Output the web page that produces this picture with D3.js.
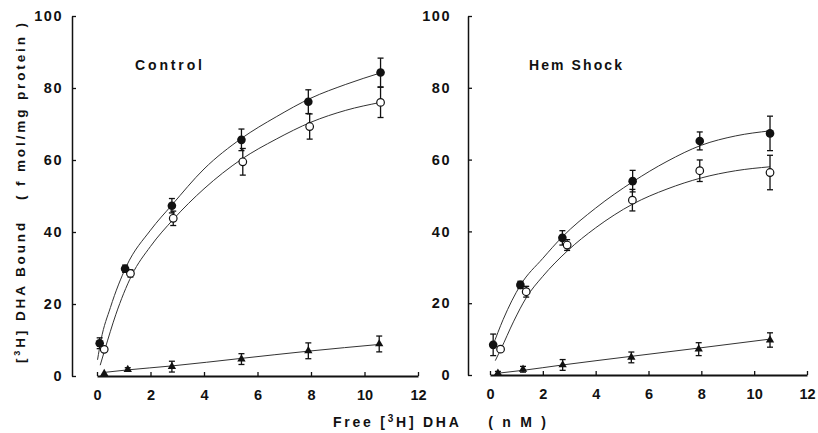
<!DOCTYPE html>
<html>
<head>
<meta charset="utf-8">
<script src="https://cdn.jsdelivr.net/npm/d3@7"></script>
<style>
  html, body { margin: 0; padding: 0; background: #fff; }
  svg { display: block; }
  text { font-family: "Liberation Sans", Arial, Helvetica, sans-serif; font-weight: bold; fill: #111; }
</style>
</head>
<body>
<svg id="chart" width="818" height="433"></svg>
<script>
// ---------- data ----------
const xTicks = [0, 2, 4, 6, 8, 10, 12];
const yTicks = [0, 20, 40, 60, 80, 100];
const panelTitles = ["Control", "Hem Shock"];

// Control panel: total binding (filled circles)
const ctrlTotalX   = [0.1, 1.05, 2.8, 5.4, 7.9, 10.6];
const ctrlTotalY   = [9.1, 29.8, 47.3, 65.6, 76.2, 84.3];
const ctrlTotalErr = [1.5, 1.0, 2.0, 3.0, 3.3, 4.0];
// Control panel: specific binding (open circles)
const ctrlSpecX    = [0.27, 1.25, 2.85, 5.45, 7.95, 10.6];
const ctrlSpecY    = [7.4, 28.5, 43.8, 59.5, 69.3, 76.0];
const ctrlSpecErr  = [0, 1.0, 2.0, 3.7, 3.5, 4.2];
// Control panel: nonspecific binding (triangles)
const ctrlNonX     = [0.27, 1.15, 2.8, 5.4, 7.9, 10.55];
const ctrlNonY     = [0.7, 1.8, 2.6, 4.7, 7.0, 8.9];
const ctrlNonErr   = [0, 0.5, 1.5, 1.5, 2.2, 2.2];
// Control panel: fitted curves
const ctrlTotalCurveX = [0.02, 0.15, 0.5, 1.1, 2.0, 2.8, 4.0, 5.4, 6.7, 8.0, 9.3, 10.6];
const ctrlTotalCurveY = [4.5, 10.0, 19.0, 30.5, 40.5, 47.5, 57.5, 66.0, 72.0, 77.2, 81.0, 84.2];
const ctrlSpecCurveX  = [0.12, 0.3, 0.7, 1.3, 2.0, 2.85, 4.0, 5.4, 6.7, 8.0, 9.3, 10.6];
const ctrlSpecCurveY  = [3.0, 7.5, 17.0, 28.0, 36.0, 43.5, 52.0, 60.2, 65.8, 70.5, 73.8, 76.0];
const ctrlNonCurveX   = [0.27, 1.15, 2.8, 5.4, 7.9, 10.6];
const ctrlNonCurveY   = [1.0, 1.7, 2.8, 4.9, 6.9, 8.8];

// Hem Shock panel
const hemTotalX   = [0.12, 1.15, 2.74, 5.4, 7.94, 10.6];
const hemTotalY   = [8.4, 25.1, 38.2, 54.0, 65.2, 67.3];
const hemTotalErr = [3.0, 1.0, 2.0, 3.0, 2.5, 4.8];
const hemSpecX    = [0.4, 1.37, 2.92, 5.39, 7.94, 10.6];
const hemSpecY    = [7.2, 23.2, 36.2, 48.7, 56.9, 56.4];
const hemSpecErr  = [0, 1.5, 1.5, 3.0, 3.0, 4.8];
const hemNonX     = [0.3, 1.25, 2.75, 5.35, 7.9, 10.6];
const hemNonY     = [0.5, 1.6, 2.8, 4.9, 7.2, 9.75];
const hemNonErr   = [0.5, 0.8, 1.5, 1.5, 1.8, 2.0];
const hemTotalCurveX = [0.1, 0.5, 1.15, 2.0, 2.74, 4.0, 5.4, 6.7, 8.0, 9.3, 10.6];
const hemTotalCurveY = [8.0, 15.5, 25.0, 32.5, 38.5, 46.5, 53.8, 59.5, 64.0, 66.6, 68.0];
const hemSpecCurveX  = [0.2, 0.4, 0.9, 1.37, 2.0, 2.92, 4.0, 5.4, 6.7, 8.0, 9.3, 10.6];
const hemSpecCurveY  = [4.0, 7.0, 15.0, 21.5, 27.5, 34.5, 41.0, 47.6, 51.8, 54.9, 56.9, 58.0];
const hemNonCurveX   = [0.3, 1.25, 2.75, 5.35, 7.9, 10.6];
const hemNonCurveY   = [0.5, 1.3, 2.8, 5.2, 7.5, 10.0];

// ---------- layout ----------
const zip = (xs, ys, es) => xs.map((x, i) => ({x: x, y: ys[i], e: es ? es[i] : 0}));

const panels = [
  {
    title: panelTitles[0], axisX: 72, x0: 97, x1: 418, yBottom: 376, yTop: 16, labelPad: 9,
    titleX: 135, titleLen: 67,
    total: zip(ctrlTotalX, ctrlTotalY, ctrlTotalErr),
    spec: zip(ctrlSpecX, ctrlSpecY, ctrlSpecErr),
    non: zip(ctrlNonX, ctrlNonY, ctrlNonErr),
    curves: [zip(ctrlTotalCurveX, ctrlTotalCurveY), zip(ctrlSpecCurveX, ctrlSpecCurveY), zip(ctrlNonCurveX, ctrlNonCurveY)]
  },
  {
    title: panelTitles[1], axisX: 468, x0: 490, x1: 807, yBottom: 375, yTop: 16, labelPad: 17,
    titleX: 529, titleLen: 93,
    total: zip(hemTotalX, hemTotalY, hemTotalErr),
    spec: zip(hemSpecX, hemSpecY, hemSpecErr),
    non: zip(hemNonX, hemNonY, hemNonErr),
    curves: [zip(hemTotalCurveX, hemTotalCurveY), zip(hemSpecCurveX, hemSpecCurveY), zip(hemNonCurveX, hemNonCurveY)]
  }
];

const svg = d3.select("#chart");
svg.append("rect").attr("width", 818).attr("height", 433).attr("fill", "#fff");

panels.forEach(p => {
  const x = d3.scaleLinear().domain([0, 12]).range([p.x0, p.x1]);
  const y = d3.scaleLinear().domain([0, 100]).range([p.yBottom, p.yTop]);
  const g = svg.append("g");

  // y axis
  const yAxis = d3.axisLeft(y).tickValues(yTicks).tickSize(-4).tickSizeOuter(0).tickPadding(p.labelPad);
  const ya = g.append("g").attr("transform", `translate(${p.axisX},0)`).call(yAxis);
  ya.select(".domain").attr("stroke", "#111").attr("stroke-width", 1.5);
  ya.selectAll(".tick line").attr("stroke", "#111").attr("stroke-width", 1.3);
  ya.selectAll(".tick text").style("font-size", "14.5px").attr("letter-spacing", "1.5px").attr("fill", "#111");

  // x axis
  const xAxis = d3.axisBottom(x).tickValues(xTicks).tickSize(-4).tickSizeOuter(0).tickPadding(14);
  const xa = g.append("g").attr("transform", `translate(0,${p.yBottom})`).call(xAxis);
  xa.select(".domain").attr("stroke", "#111").attr("stroke-width", 2);
  xa.selectAll(".tick line").attr("stroke", "#111").attr("stroke-width", 1.3);
  xa.selectAll(".tick text").style("font-size", "14.5px").attr("fill", "#111");

  // curves
  const line = d3.line().x(d => x(d.x)).y(d => y(d.y)).curve(d3.curveMonotoneX);
  p.curves.forEach(c => {
    g.append("path").attr("d", line(c)).attr("fill", "none")
      .attr("stroke", "#333").attr("stroke-width", 1);
  });

  // error bars
  const errs = [].concat(p.total, p.spec, p.non).filter(d => d.e > 0);
  const eg = g.append("g").attr("stroke", "#111").attr("stroke-width", 1.3);
  errs.forEach(d => {
    const cx = x(d.x), yt = y(d.y + d.e), yb = y(d.y - d.e);
    eg.append("line").attr("x1", cx).attr("x2", cx).attr("y1", yt).attr("y2", yb);
    eg.append("line").attr("x1", cx - 3).attr("x2", cx + 3).attr("y1", yt).attr("y2", yt);
    eg.append("line").attr("x1", cx - 3).attr("x2", cx + 3).attr("y1", yb).attr("y2", yb);
  });

  // markers
  g.selectAll(".tri").data(p.non).enter().append("path")
    .attr("d", d3.symbol().type(d3.symbolTriangle).size(30))
    .attr("transform", d => `translate(${x(d.x)},${y(d.y)})`)
    .attr("fill", "#111");
  g.selectAll(".open").data(p.spec).enter().append("circle")
    .attr("cx", d => x(d.x)).attr("cy", d => y(d.y)).attr("r", 3.8)
    .attr("fill", "#fff").attr("stroke", "#111").attr("stroke-width", 1.2);
  g.selectAll(".filled").data(p.total).enter().append("circle")
    .attr("cx", d => x(d.x)).attr("cy", d => y(d.y)).attr("r", 4.3)
    .attr("fill", "#111");

  // panel title
  g.append("text").attr("x", p.titleX).attr("y", 70)
    .attr("textLength", p.titleLen).attr("lengthAdjust", "spacing")
    .style("font-size", "14px").text(p.title);
});

// x-axis title
const xt = svg.append("text").attr("x", 333).attr("y", 427).style("font-size", "14px")
  .attr("textLength", 213).attr("lengthAdjust", "spacing");
xt.append("tspan").text("Free [");
xt.append("tspan").attr("dy", -5).style("font-size", "10px").text("3");
xt.append("tspan").attr("dy", 5).text("H] DHA");
xt.append("tspan").text("\u00a0\u00a0\u00a0\u00a0( n M )");

// y-axis title
const yt = svg.append("text").attr("transform", "translate(25,363) rotate(-90)")
  .style("font-size", "13.5px").attr("textLength", 340).attr("lengthAdjust", "spacing");
yt.append("tspan").text("[");
yt.append("tspan").attr("dy", -5).style("font-size", "9px").text("3");
yt.append("tspan").attr("dy", 5).text("H] DHA Bound");
yt.append("tspan").text("\u00a0\u00a0\u00a0( f mol/mg protein )");
</script>
</body>
</html>
